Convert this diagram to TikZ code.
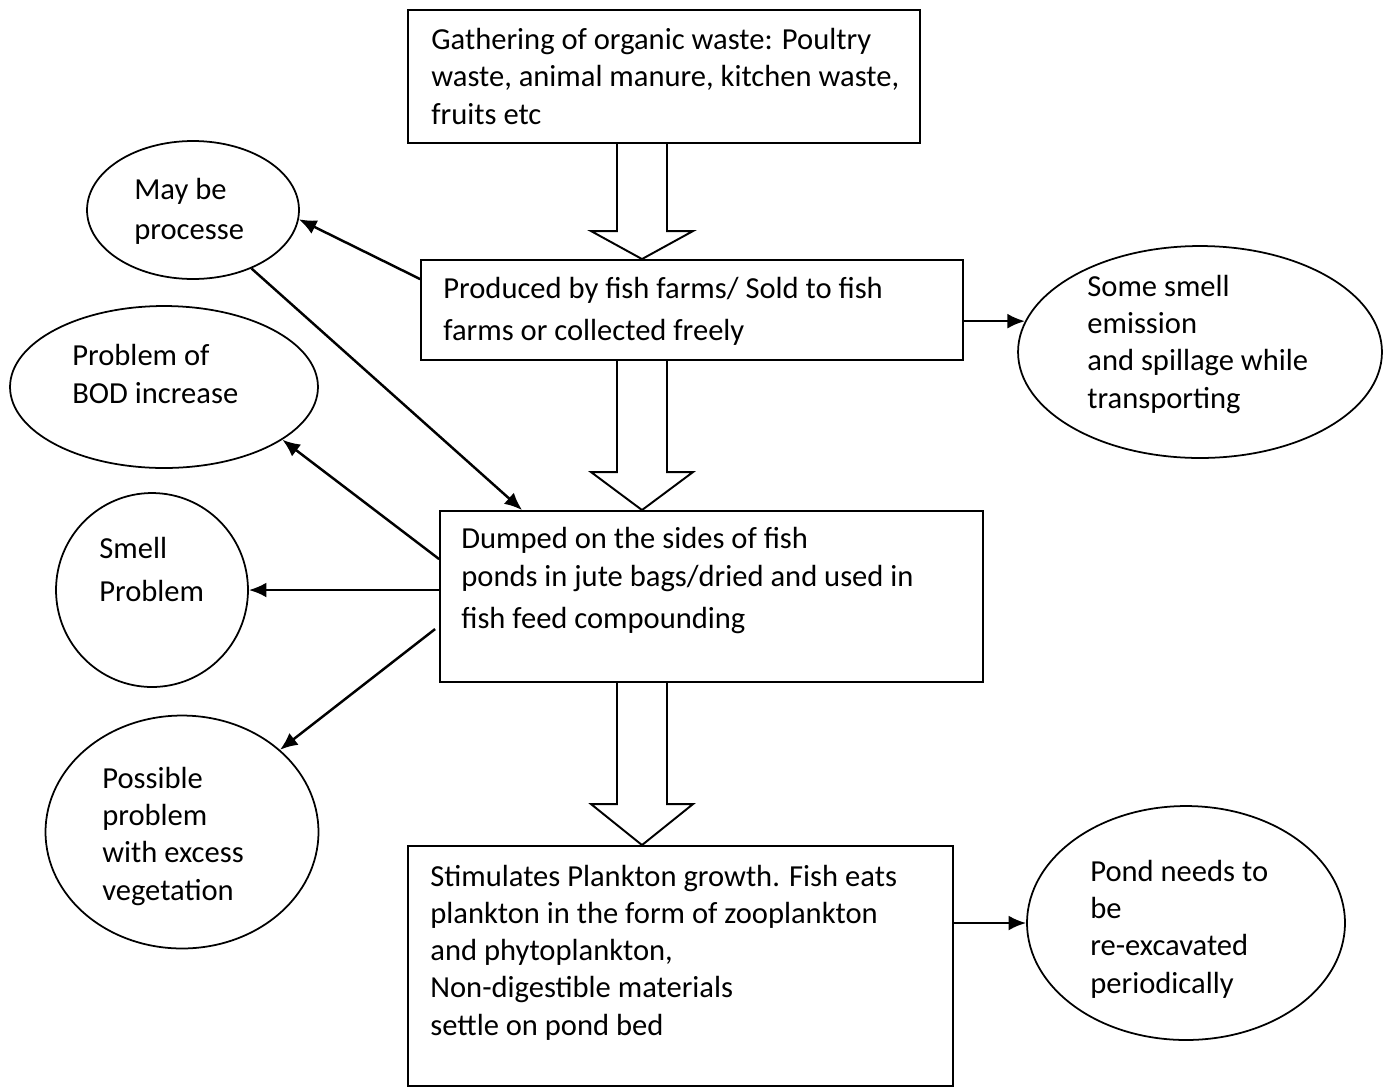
\documentclass[tikz,border=0pt]{standalone}
\usepackage{fontspec}
\setmainfont{Carlito}
\usetikzlibrary{arrows.meta,shapes.geometric,calc}
\tikzstyle{stage}=[rectangle, draw, line width=1.1pt, inner sep=0pt]
\tikzstyle{bubble}=[ellipse, draw, line width=1pt, inner sep=0pt]
\tikzstyle{blurb}=[align=left, inner sep=0pt, anchor=base west, font=\fontsize{17.4}{21.2}\selectfont]
\tikzstyle{fat}=[draw, line width=1.1pt, line join=miter]
\newcommand{\stage}{\node[stage]}
\newcommand{\bubble}{\node[bubble]}
\newcommand{\blurb}{\node[blurb]}
% hollow arrow between two boxes of the main column
\newcommand{\fatarrow}[3]{%
  \draw[fat] ($(spine |- #1.south)+(-25,0)$) -- ($(spine |- #2.north)+(-25,-#3)$)
    -- ($(spine |- #2.north)+(-51,-#3)$) -- (spine |- #2.north)
    -- ($(spine |- #2.north)+(51,-#3)$) -- ($(spine |- #2.north)+(25,-#3)$)
    -- ($(spine |- #1.south)+(25,0)$);}

\begin{document}
\begin{tikzpicture}[x=0.02cm, y=-0.02cm
    ,every edge/.style={draw, line width=1.4pt, -{Latex[length=10pt,width=8.5pt]}}
]
\useasboundingbox (0,0) rectangle (1388,1089);
\coordinate (spine) at (642,0);

% main column (text placed by the baseline of its last line)
\stage[minimum width=10.24cm, minimum height=2.66cm] (gather) at (664,76.5) {};
\stage[minimum width=10.84cm, minimum height=2.00cm] (produce) at (692,310) {};
\stage[minimum width=10.86cm, minimum height=3.42cm] (dump) at (711.5,596.5) {};
\stage[minimum width=10.90cm, minimum height=4.80cm] (plankton) at (680.5,966) {};

\blurb (gatherText) at (431,124) {Gathering of organic waste: Poultry\\waste, animal manure, kitchen waste,\\fruits etc};
\blurb (produceText) at (443,340) {Produced by fish farms/ Sold to fish\\[2.6pt]farms or collected freely};
\blurb (dumpText) at (461,628) {Dumped on the sides of fish\\ponds in jute bags/dried and used in\\[2.6pt]fish feed compounding};
\blurb (planktonText) at (430,1035) {Stimulates Plankton growth. Fish eats\\plankton in the form of zooplankton\\and phytoplankton,\\Non-digestible materials\\settle on pond bed};

\fatarrow{gather}{produce}{28}
\fatarrow{produce}{dump}{38}
\fatarrow{dump}{plankton}{41}

% side effects
\bubble[minimum width=4.24cm, minimum height=2.76cm] (may) at (193,210) {};
\bubble[minimum width=6.16cm, minimum height=3.24cm] (bod) at (164,387) {};
\bubble[minimum width=3.84cm, minimum height=3.88cm] (smell) at (152,590) {};
\bubble[minimum width=5.46cm, minimum height=4.66cm] (veg) at (182,832) {};
\bubble[minimum width=7.28cm, minimum height=4.24cm] (emit) at (1200,352) {};
\bubble[minimum width=6.36cm, minimum height=4.68cm] (pond) at (1186,923) {};

\blurb (mayText) at (134,239) {May be\\[1.5pt]processe};
\blurb (bodText) at (72,403) {Problem of\\BOD increase};
\blurb (smellText) at (99,601) {Smell\\[3pt]Problem};
\blurb (vegText) at (102,900) {Possible\\problem\\with excess\\vegetation};
\blurb (emitText) at (1087,408) {Some smell\\emission\\and spillage while\\transporting};
\blurb (pondText) at (1090,993) {Pond needs to\\be\\re-excavated\\periodically};

\path
($(produce.north west)+(0,20)$) edge (may.-5)
(may.-45) edge ($(dump.north west)+(83,0)$)
($(dump.north west)+(0,49)$) edge (bod.-24)
(dump.west |- smell.east) edge (smell.east)
($(dump.north west)+(-4,119)$) edge (veg.40)
(produce.east |- emit.170) edge (emit.170)
(plankton.east |- pond.west) edge (pond.west)
;
\end{tikzpicture}
\end{document}
